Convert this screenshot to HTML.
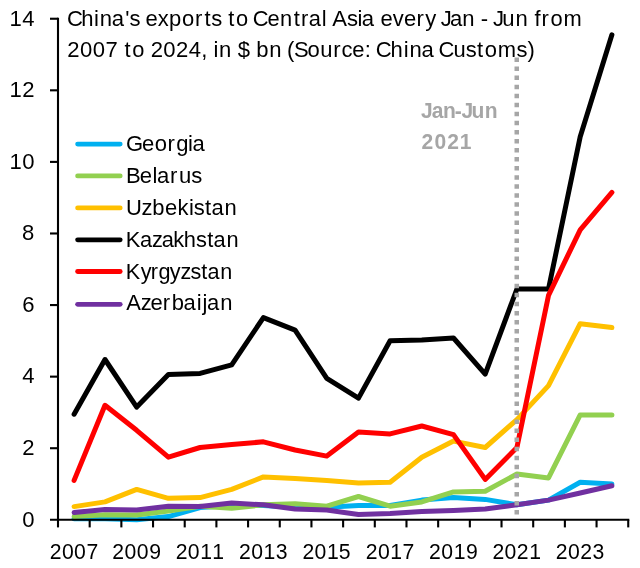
<!DOCTYPE html>
<html><head><meta charset="utf-8"><title>China's exports to Central Asia</title>
<style>
html,body{margin:0;padding:0;background:#fff;}
svg{display:block;font-family:"Liberation Sans",sans-serif;}
</style></head><body>
<svg width="640" height="568" viewBox="0 0 640 568">
<rect width="640" height="568" fill="#fff"/>
<polyline points="74.1,518.7 105.0,518.7 136.7,519.8 168.4,516.6 200.1,507.6 231.7,505.5 263.4,505.5 295.1,507.3 326.8,507.3 358.5,505.5 390.1,505.5 421.8,500.1 453.5,497.6 485.2,499.4 516.9,504.8 548.5,500.1 580.2,482.2 611.9,484.0" fill="none" stroke="#00b0f0" stroke-width="5.0" stroke-linecap="round" stroke-linejoin="round"/>
<polyline points="74.1,516.6 105.0,514.8 136.7,515.1 168.4,510.9 200.1,506.2 231.7,508.3 263.4,504.8 295.1,503.7 326.8,506.2 358.5,496.5 390.1,506.2 421.8,501.9 453.5,491.9 485.2,491.2 516.9,474.0 548.5,477.9 580.2,414.9 611.9,414.9" fill="none" stroke="#92d050" stroke-width="5.0" stroke-linecap="round" stroke-linejoin="round"/>
<polyline points="74.1,506.6 105.0,501.9 136.7,489.4 168.4,498.3 200.1,497.6 231.7,489.4 263.4,476.9 295.1,478.6 326.8,480.4 358.5,482.9 390.1,482.2 421.8,457.2 453.5,441.1 485.2,447.5 516.9,419.6 548.5,385.6 580.2,323.7 611.9,327.6" fill="none" stroke="#ffc000" stroke-width="5.0" stroke-linecap="round" stroke-linejoin="round"/>
<polyline points="74.1,414.2 105.0,359.5 136.7,407.1 168.4,374.5 200.1,373.4 231.7,364.8 263.4,317.6 295.1,330.1 326.8,378.4 358.5,398.1 390.1,340.8 421.8,340.1 453.5,338.0 485.2,374.1 516.9,289.0 548.5,289.0 580.2,136.8 611.9,34.8" fill="none" stroke="#000000" stroke-width="5.0" stroke-linecap="round" stroke-linejoin="round"/>
<polyline points="74.1,480.4 105.0,405.3 136.7,430.3 168.4,457.2 200.1,447.5 231.7,444.6 263.4,441.8 295.1,450.0 326.8,456.1 358.5,432.1 390.1,433.9 421.8,426.0 453.5,434.6 485.2,479.4 516.9,447.5 548.5,295.4 580.2,229.9 611.9,192.3" fill="none" stroke="#ff0000" stroke-width="5.0" stroke-linecap="round" stroke-linejoin="round"/>
<polyline points="74.1,512.6 105.0,509.4 136.7,510.1 168.4,506.2 200.1,506.6 231.7,503.0 263.4,504.8 295.1,509.1 326.8,510.1 358.5,514.4 390.1,513.4 421.8,511.6 453.5,510.5 485.2,509.1 516.9,504.8 548.5,500.1 580.2,493.0 611.9,485.8" fill="none" stroke="#7030a0" stroke-width="5.0" stroke-linecap="round" stroke-linejoin="round"/>
<g stroke="#000" stroke-width="2.1" fill="none">
<line x1="58.0" y1="17.69" x2="58.0" y2="520.85"/>
<line x1="50.0" y1="519.8" x2="629.29" y2="519.8"/>
<line x1="50.0" y1="448.22" x2="58.0" y2="448.22"/>
<line x1="50.0" y1="376.64" x2="58.0" y2="376.64"/>
<line x1="50.0" y1="305.06" x2="58.0" y2="305.06"/>
<line x1="50.0" y1="233.48" x2="58.0" y2="233.48"/>
<line x1="50.0" y1="161.90" x2="58.0" y2="161.90"/>
<line x1="50.0" y1="90.32" x2="58.0" y2="90.32"/>
<line x1="50.0" y1="18.74" x2="58.0" y2="18.74"/>
<line x1="58.00" y1="519.8" x2="58.00" y2="527.4"/>
<line x1="89.68" y1="519.8" x2="89.68" y2="527.4"/>
<line x1="121.36" y1="519.8" x2="121.36" y2="527.4"/>
<line x1="153.04" y1="519.8" x2="153.04" y2="527.4"/>
<line x1="184.72" y1="519.8" x2="184.72" y2="527.4"/>
<line x1="216.40" y1="519.8" x2="216.40" y2="527.4"/>
<line x1="248.08" y1="519.8" x2="248.08" y2="527.4"/>
<line x1="279.76" y1="519.8" x2="279.76" y2="527.4"/>
<line x1="311.44" y1="519.8" x2="311.44" y2="527.4"/>
<line x1="343.12" y1="519.8" x2="343.12" y2="527.4"/>
<line x1="374.80" y1="519.8" x2="374.80" y2="527.4"/>
<line x1="406.48" y1="519.8" x2="406.48" y2="527.4"/>
<line x1="438.16" y1="519.8" x2="438.16" y2="527.4"/>
<line x1="469.84" y1="519.8" x2="469.84" y2="527.4"/>
<line x1="501.52" y1="519.8" x2="501.52" y2="527.4"/>
<line x1="533.20" y1="519.8" x2="533.20" y2="527.4"/>
<line x1="564.88" y1="519.8" x2="564.88" y2="527.4"/>
<line x1="596.56" y1="519.8" x2="596.56" y2="527.4"/>
<line x1="628.24" y1="519.8" x2="628.24" y2="527.4"/>
</g>
<line x1="516.75" y1="57.5" x2="516.75" y2="516" stroke="#a6a6a6" stroke-width="4.5" stroke-dasharray="4.5 4.55"/>
<line x1="77.6" y1="144.10" x2="120.2" y2="144.10" stroke="#00b0f0" stroke-width="4.8" stroke-linecap="round"/>
<line x1="77.6" y1="175.90" x2="120.2" y2="175.90" stroke="#92d050" stroke-width="4.8" stroke-linecap="round"/>
<line x1="77.6" y1="207.90" x2="120.2" y2="207.90" stroke="#ffc000" stroke-width="4.8" stroke-linecap="round"/>
<line x1="77.6" y1="239.80" x2="120.2" y2="239.80" stroke="#000000" stroke-width="4.8" stroke-linecap="round"/>
<line x1="77.6" y1="271.50" x2="120.2" y2="271.50" stroke="#ff0000" stroke-width="4.8" stroke-linecap="round"/>
<line x1="77.6" y1="304.30" x2="120.2" y2="304.30" stroke="#7030a0" stroke-width="4.8" stroke-linecap="round"/>
<text transform="translate(0,26.30) scale(1.0044,1)" x="66.60 80.92 93.66 99.21 111.17 124.61 128.93" font-size="22" fill="#000">China's</text>
<text transform="translate(0,26.30) scale(0.9994,1)" x="145.65 157.81 169.01 182.23 195.04 204.61 211.39" font-size="22" fill="#000">exports</text>
<text transform="translate(0,26.30) scale(0.9930,1)" x="229.80 237.57" font-size="22" fill="#000">to</text>
<text transform="translate(0,26.30) scale(0.9942,1)" x="254.21 269.13 281.52 295.37 302.83 310.49 323.70" font-size="22" fill="#000">Central</text>
<text transform="translate(0,26.30) scale(1.0044,1)" x="330.77 345.59 355.85 360.28" font-size="22" fill="#000">Asia</text>
<text transform="translate(0,26.30) scale(1.0000,1)" x="380.47 392.87 404.09 416.51 425.16" font-size="22" fill="#000">every</text>
<text transform="translate(0,26.30) scale(1.0044,1)" x="438.93 448.15 460.15" font-size="22" fill="#000">Jan</text>
<text transform="translate(0,26.30) scale(1.0044,1)" x="478.77" font-size="22" fill="#000">-</text>
<text transform="translate(0,26.30) scale(1.0044,1)" x="490.74 500.14 513.12" font-size="22" fill="#000">Jun</text>
<text transform="translate(0,26.30) scale(0.9962,1)" x="536.57 543.67 552.66 565.67" font-size="22" fill="#000">from</text>
<text transform="translate(0,56.50) scale(1.0044,1)" x="66.92 79.71 92.33 105.13" font-size="22" fill="#000">2007</text>
<text transform="translate(0,56.50) scale(0.9930,1)" x="125.42 133.19" font-size="22" fill="#000">to</text>
<text transform="translate(0,56.50) scale(1.0044,1)" x="150.06 162.65 175.30 187.96 200.39" font-size="22" fill="#000">2024,</text>
<text transform="translate(0,56.50) scale(1.0044,1)" x="212.54 218.10" font-size="22" fill="#000">in</text>
<text transform="translate(0,56.50) scale(1.0044,1)" x="236.77" font-size="22" fill="#000">$</text>
<text transform="translate(0,56.50) scale(1.0044,1)" x="255.14 268.12" font-size="22" fill="#000">bn</text>
<text transform="translate(0,56.50) scale(1.0000,1)" x="287.01 294.01 307.55 320.30 333.16 341.47 352.34 364.84" font-size="22" fill="#000">(Source:</text>
<text transform="translate(0,56.50) scale(1.0044,1)" x="374.00 388.77 402.03 407.59 419.54" font-size="22" fill="#000">China</text>
<text transform="translate(0,56.50) scale(0.9988,1)" x="439.12 454.02 466.22 477.50 485.27 498.28 517.22 528.09" font-size="22" fill="#000">Customs)</text>
<text transform="translate(0,151.20) scale(1.0001,1)" x="125.92 141.90 154.62 167.44 176.14 188.10 192.53" font-size="22" fill="#000">Georgia</text>
<text transform="translate(0,183.10) scale(1.0044,1)" x="125.49 139.19 151.88 156.31 169.24 178.13 190.33" font-size="22" fill="#000">Belarus</text>
<text transform="translate(0,215.00) scale(0.9991,1)" x="126.21 141.70 152.35 165.19 177.55 189.19 193.97 205.25 211.70 224.74" font-size="22" fill="#000">Uzbekistan</text>
<text transform="translate(0,246.90) scale(0.9920,1)" x="126.82 141.12 153.27 163.05 174.60 185.26 197.59 208.87 215.32 228.36" font-size="22" fill="#000">Kazakhstan</text>
<text transform="translate(0,278.80) scale(0.9819,1)" x="128.12 143.31 153.62 161.34 172.91 183.79 193.90 204.86 211.30 224.35" font-size="22" fill="#000">Kyrgyzstan</text>
<text transform="translate(0,310.30) scale(0.9991,1)" x="126.26 140.80 150.57 162.96 171.84 183.70 196.91 202.74 207.30 220.34" font-size="22" fill="#000">Azerbaijan</text>
<text transform="translate(0,118.00) scale(0.9574,1)" x="439.87 450.90 462.76 474.92 481.97 492.43 506.35" font-size="22" fill="#a6a6a6" font-weight="bold">Jan-Jun</text>
<text transform="translate(0,148.60) scale(0.9574,1)" x="440.14 453.78 467.04 480.22" font-size="22" fill="#a6a6a6" font-weight="bold">2021</text>
<text transform="translate(0,526.60) scale(1.0044,1)" x="22.23" font-size="22" fill="#000">0</text>
<text transform="translate(0,455.02) scale(1.0044,1)" x="22.06" font-size="22" fill="#000">2</text>
<text transform="translate(0,383.44) scale(1.0044,1)" x="22.25" font-size="22" fill="#000">4</text>
<text transform="translate(0,311.86) scale(1.0044,1)" x="22.12" font-size="22" fill="#000">6</text>
<text transform="translate(0,240.28) scale(1.0044,1)" x="21.97" font-size="22" fill="#000">8</text>
<text transform="translate(0,168.70) scale(1.0044,1)" x="9.42 22.23" font-size="22" fill="#000">10</text>
<text transform="translate(0,97.12) scale(1.0044,1)" x="9.42 22.06" font-size="22" fill="#000">12</text>
<text transform="translate(0,25.54) scale(1.0044,1)" x="9.42 22.25" font-size="22" fill="#000">14</text>
<text transform="translate(0,558.60) scale(0.9642,1)" x="51.62 64.21 76.82 89.62" font-size="22" fill="#000">2007</text>
<text transform="translate(0,558.60) scale(0.9642,1)" x="116.50 129.09 141.71 154.70" font-size="22" fill="#000">2009</text>
<text transform="translate(0,558.60) scale(0.9642,1)" x="182.22 194.80 207.63 220.25" font-size="22" fill="#000">2011</text>
<text transform="translate(0,558.60) scale(0.9642,1)" x="247.93 260.51 273.34 285.91" font-size="22" fill="#000">2013</text>
<text transform="translate(0,558.60) scale(0.9642,1)" x="313.64 326.23 339.06 351.31" font-size="22" fill="#000">2015</text>
<text transform="translate(0,558.60) scale(0.9642,1)" x="379.35 391.94 404.77 417.35" font-size="22" fill="#000">2017</text>
<text transform="translate(0,558.60) scale(0.9642,1)" x="445.06 457.65 470.48 483.26" font-size="22" fill="#000">2019</text>
<text transform="translate(0,558.60) scale(0.9642,1)" x="510.78 523.36 536.01 548.81" font-size="22" fill="#000">2021</text>
<text transform="translate(0,558.60) scale(0.9642,1)" x="576.49 589.07 601.72 614.47" font-size="22" fill="#000">2023</text>
</svg>
</body></html>
